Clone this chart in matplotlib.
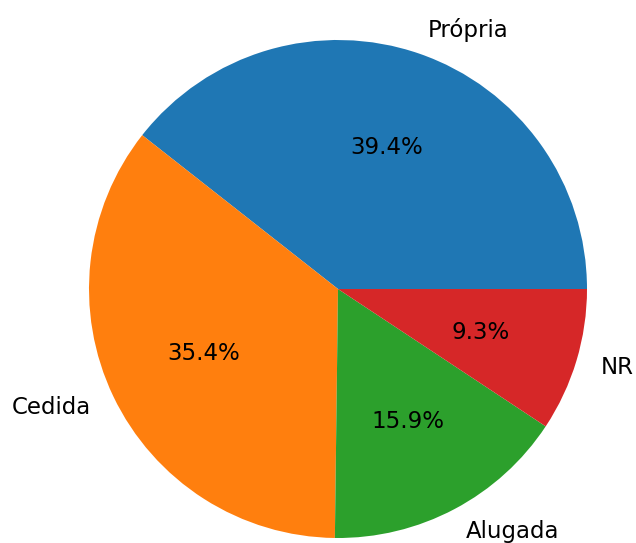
import matplotlib
matplotlib.use('Agg')
import matplotlib.pyplot as plt

labels = ['Própria', 'Cedida', 'Alugada', 'NR']
values = [39.4, 35.4, 15.9, 9.3]

fig = plt.figure(figsize=(6.36, 5.43), dpi=100)
ax = fig.add_axes([0, 0, 1, 1])
ax.pie(values, labels=labels, autopct='%1.1f%%',
       textprops={'fontsize': 16.5})

# place the pie: centre at (338, 289) px, radius ~249 px
r = 249.0
ax.set_xlim(-338 / r, (636 - 338) / r)
ax.set_ylim(-(543 - 289) / r, 289 / r)
ax.set_aspect('auto')
ax.axis('off')

fig.savefig('out.png', dpi=100)
